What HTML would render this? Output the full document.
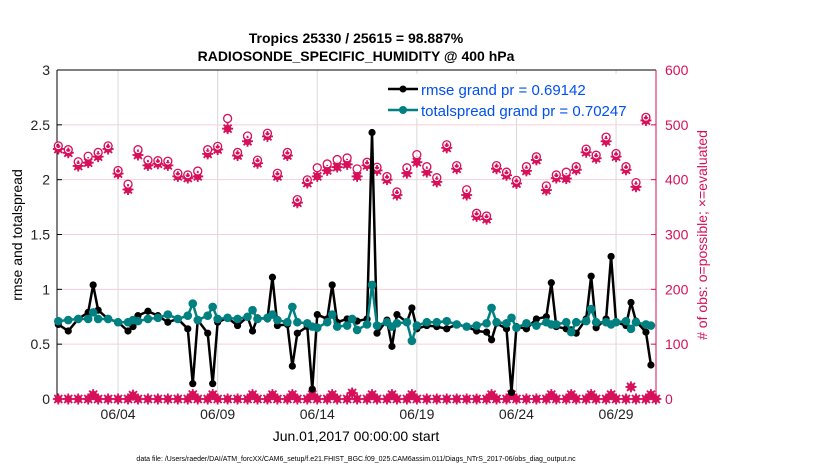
<!DOCTYPE html>
<html><head><meta charset="utf-8"><style>
body{margin:0;background:#fff;}
svg text{font-family:"Liberation Sans",sans-serif;}
</style></head><body>
<svg id="chart" width="830" height="470" xmlns="http://www.w3.org/2000/svg">
<rect width="830" height="470" fill="#fff"/>
<g id="grid"></g>
<g id="axes"></g>
<g id="legend">
<rect x="376" y="74" width="276" height="44" fill="#fff"/>
<line x1="388" y1="89" x2="418" y2="89" stroke="#000" stroke-width="2.5"/>
<circle cx="403" cy="89" r="3.5" fill="#000"/>
<text x="421" y="95" font-size="15" fill="#0050f0">rmse grand pr = 0.69142</text>
<line x1="388" y1="110" x2="418" y2="110" stroke="#008080" stroke-width="2.5"/>
<circle cx="403" cy="110" r="4" fill="#008080"/>
<text x="421" y="116" font-size="15" fill="#0050f0">totalspread grand pr = 0.70247</text>
</g>
<g id="series"></g>
<text x="356" y="43" font-size="14" font-weight="bold" text-anchor="middle">Tropics 25330 / 25615 = 98.887%</text>
<text x="356" y="61" font-size="14" font-weight="bold" text-anchor="middle">RADIOSONDE_SPECIFIC_HUMIDITY @ 400 hPa</text>
<text transform="translate(22,235) rotate(-90)" font-size="14" text-anchor="middle">rmse and totalspread</text>
<text transform="translate(707,235) rotate(-90)" font-size="14" text-anchor="middle" fill="#d6105a"># of obs: o=possible; ×=evaluated</text>
<text x="356" y="441" font-size="14" text-anchor="middle">Jun.01,2017 00:00:00 start</text>
<text x="356" y="461" font-size="7" text-anchor="middle">data file: /Users/raeder/DAI/ATM_forcXX/CAM6_setup/f.e21.FHIST_BGC.f09_025.CAM6assim.011/Diags_NTrS_2017-06/obs_diag_output.nc</text>
</svg>
<script>
const rmseDays=[0,0.5,1,1.5,1.75,2,2.5,3,3.5,3.75,4,4.5,5,5.5,6,6.5,6.75,7,7.5,7.75,8,8.5,9,9.5,9.75,10,10.5,10.75,11,11.5,11.75,12,12.5,12.75,13,13.5,13.75,14,14.5,14.75,15,15.5,15.75,16,16.5,16.75,17,17.5,17.75,18,18.5,19,19.5,20,20.5,21,21.5,21.75,22,22.5,22.75,23,23.5,24,24.5,24.75,25,25.5,25.75,26,26.5,26.75,27,27.5,27.75,28,28.5,28.75,29,29.5,29.75];
const rmseVals=[0.68,0.62,0.73,0.79,1.04,0.81,0.73,0.70,0.62,0.66,0.76,0.80,0.76,0.70,0.73,0.64,0.14,0.72,0.60,0.14,0.70,0.74,0.67,0.75,0.62,0.74,0.73,1.11,0.67,0.68,0.30,0.60,0.66,0.09,0.77,0.73,1.04,0.70,0.73,0.73,0.71,0.73,2.43,0.60,0.72,0.48,0.77,0.70,0.83,0.64,0.67,0.66,0.64,0.68,0.66,0.62,0.61,0.54,0.69,0.64,0.06,0.66,0.64,0.73,0.75,1.06,0.66,0.64,0.63,0.60,0.73,1.12,0.65,0.73,1.30,0.70,0.67,0.88,0.71,0.61,0.31];
const spreadVals=[0.71,0.72,0.73,0.73,0.79,0.73,0.73,0.70,0.70,0.72,0.71,0.73,0.74,0.77,0.73,0.76,0.87,0.72,0.76,0.84,0.73,0.74,0.73,0.75,0.81,0.73,0.74,0.77,0.72,0.70,0.84,0.70,0.69,0.66,0.65,0.70,0.77,0.66,0.67,0.73,0.63,0.68,1.04,0.67,0.70,0.66,0.69,0.70,0.53,0.67,0.70,0.70,0.71,0.68,0.66,0.67,0.69,0.83,0.70,0.69,0.74,0.65,0.69,0.67,0.70,0.68,0.68,0.70,0.61,0.70,0.71,0.82,0.70,0.70,0.68,0.70,0.71,0.64,0.70,0.68,0.67];
const obsDays=[0,0.5,1,1.5,2,2.5,3,3.5,4,4.5,5,5.5,6,6.5,7,7.5,8,8.5,9,9.5,10,10.5,11,11.5,12,12.5,13,13.5,14,14.5,15,15.5,16,16.5,17,17.5,18,18.5,19,19.5,20,20.5,21,21.5,22,22.5,23,23.5,24,24.5,25,25.5,26,26.5,27,27.5,28,28.5,29,29.5];
const obsEvaluated=[456,449,425,431,442,456,411,382,445,426,429,426,406,403,406,447,455,493,444,470,430,479,406,444,358,394,406,417,423,428,406,426,417,400,372,412,432,414,396,458,420,372,333,328,420,408,393,416,436,381,403,402,418,450,439,470,442,418,387,508];
const obsPossible=[458,451,429,439,446,458,413,388,451,432,431,430,408,405,412,451,457,508,446,476,432,481,408,446,360,396,418,425,433,436,416,428,419,402,374,418,442,420,400,460,422,378,335,330,422,410,395,420,438,385,405,410,420,452,441,474,444,420,391,510];
const lowDays=[0,0.5,1,1.5,1.75,2,2.5,3,3.5,3.75,4,4.5,5,5.5,6,6.5,6.75,7,7.5,7.75,8,8.5,9,9.5,9.75,10,10.5,10.75,11,11.5,11.75,12,12.5,12.75,13,13.5,13.75,14,14.5,14.75,15,15.5,15.75,16,16.5,16.75,17,17.5,17.75,18,18.5,19,19.5,20,20.5,21,21.5,21.75,22,22.5,22.75,23,23.5,24,24.5,24.75,25,25.5,25.75,26,26.5,26.75,27,27.5,27.75,28,28.5,28.75,29,29.5,29.75,30];
const lowVals=[0,0,0,0,8,0,0,0,0,7,0,0,0,0,0,0,8,0,0,8,0,0,0,0,8,0,0,8,0,0,8,0,0,8,0,0,8,0,0,11,0,0,8,0,0,8,0,0,8,0,0,0,0,0,0,0,0,8,0,0,8,0,0,0,0,8,0,0,8,0,0,8,0,0,8,0,0,22,0,0,8,0];
const xTickDays=[3,8,13,18,23,28];
const xTickLabels=["06/04","06/09","06/14","06/19","06/24","06/29"];
const yTicks=[0,0.5,1,1.5,2,2.5,3];
const yTickLabels=["0","0.5","1","1.5","2","2.5","3"];
const y2Ticks=[0,100,200,300,400,500,600];

const L=57,R=656,T=70,B=399;
const x=d=>58.3+d*19.92;
const y=v=>B-(v/3)*(B-T);
const y2=v=>B-(v/600)*(B-T);
const NS="http://www.w3.org/2000/svg";
function mk(tag,parent,attrs){const e=document.createElementNS(NS,tag);for(const k in attrs)e.setAttribute(k,attrs[k]);parent.appendChild(e);return e;}
const grid=document.getElementById('grid'),ser=document.getElementById('series'),ax=document.getElementById('axes');
const MAG="#d6105a";
xTickDays.forEach((d,i)=>{
  const g=mk('line',grid,{x1:x(d),x2:x(d),y1:T,y2:B,stroke:"#d8d8d8","stroke-width":1});
  
  
  const t=mk('line',ax,{x1:x(d),x2:x(d),y1:B,y2:B-5,stroke:"#000"});
  
  
  const lb=mk('text',ax,{x:x(d),y:419,"font-size":14,"text-anchor":"middle",fill:"#222"});
  lb.textContent=xTickLabels[i];
  
  
});
yTicks.forEach((v,i)=>{
  if(v>0&&v<3){const g=mk('line',grid,{x1:L,x2:R,y1:y(v),y2:y(v),stroke:"#f4cfdc","stroke-width":1});
  
  }
  const t=mk('line',ax,{x1:L,x2:L+5,y1:y(v),y2:y(v),stroke:"#000"});
  
  
  const lb=mk('text',ax,{x:50,y:y(v)+5,"font-size":14,"text-anchor":"end",fill:"#222"});
  lb.textContent=yTickLabels[i];
  
  
});
y2Ticks.forEach(v=>{
  const t=mk('line',ax,{x1:R,x2:R-5,y1:y2(v),y2:y2(v),stroke:MAG});
  
  
  const lb=mk('text',ax,{x:665,y:y2(v)+5,"font-size":14,fill:MAG});
  lb.textContent=String(v);
  
  
});
let a=mk('line',ax,{x1:L,x2:L,y1:T,y2:B,stroke:"#000"});


a=mk('line',ax,{x1:L,x2:R,y1:B,y2:B,stroke:"#000"});


a=mk('line',ax,{x1:L,x2:R,y1:T,y2:T,stroke:"#000"});


a=mk('line',ax,{x1:R,x2:R,y1:T,y2:B,stroke:MAG});



function star(cx,cy,name){
  const g=mk('g',ser,{});
  
  
  mk('circle',g,{cx:cx,cy:cy,r:3.8,fill:MAG});
  mk('path',g,{d:`M${cx-5.5} ${cy}H${cx+5.5}M${cx} ${cy-5.5}V${cy+5.5}M${cx-4} ${cy-4}L${cx+4} ${cy+4}M${cx-4} ${cy+4}L${cx+4} ${cy-4}`,stroke:MAG,"stroke-width":1.8});
}
obsDays.forEach((d,i)=>{
  star(x(d),y2(obsEvaluated[i]),'obs-evaluated-marker');
  const c=mk('circle',ser,{cx:x(d),cy:y2(obsPossible[i])-2,r:2.8,fill:"none",stroke:"#fff","stroke-width":1.2});
  
  
  const c2=mk('circle',ser,{cx:x(d),cy:y2(obsPossible[i])-2,r:4,fill:"none",stroke:MAG,"stroke-width":1.3});
  
  
});
lowDays.forEach((d,i)=>{star(x(d),y2(lowVals[i]),'obs-low-marker');});

function series(vals,color,r,name){
  const p=mk('polyline',ser,{points:rmseDays.map((d,i)=>x(d)+','+y(vals[i])).join(' '),fill:"none",stroke:color,"stroke-width":2.5,"stroke-linejoin":"round"});
  
  
  rmseDays.forEach((d,i)=>{
    const c=mk('circle',ser,{cx:x(d),cy:y(vals[i]),r:r,fill:color});
    
    
  });
}
series(rmseVals,"#000",3.6,'rmse');
series(spreadVals,"#008080",4.3,'totalspread');
</script>
</body></html>
